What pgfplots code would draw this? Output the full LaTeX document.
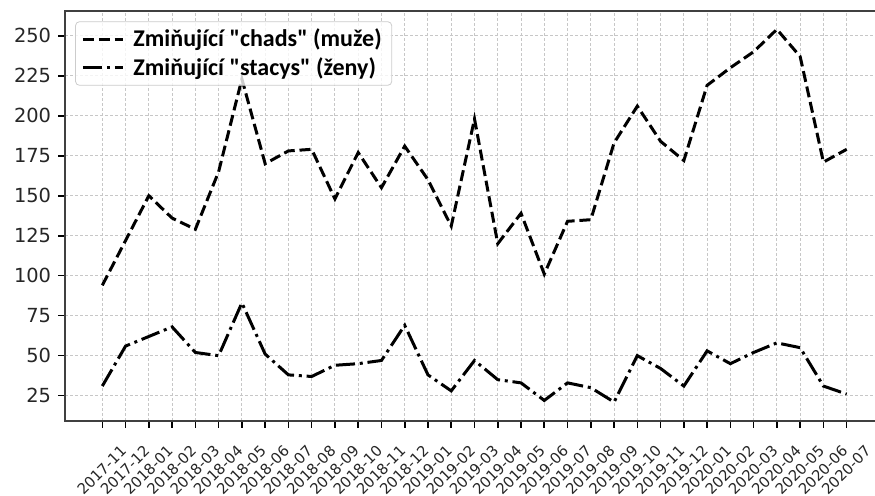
\documentclass[border=0pt]{standalone}
\usepackage{fontspec}
\setmainfont{DejaVu Sans}
\newfontfamily\legfont{Carlito}
\usepackage{pgfplots}
\pgfplotsset{compat=1.18}
\begin{document}
\begin{tikzpicture}
\begin{axis}[
  at={(32.55pt,37.15pt)}, anchor=south west,
  scale only axis, width=409.4pt, height=205pt,
  xmin=-1.6, xmax=33.6, ymin=9.35, ymax=265.65,
  xtick={0,...,32},
  xticklabels={2017-11,2017-12,2018-01,2018-02,2018-03,2018-04,2018-05,2018-06,2018-07,2018-08,2018-09,2018-10,2018-11,2018-12,2019-01,2019-02,2019-03,2019-04,2019-05,2019-06,2019-07,2019-08,2019-09,2019-10,2019-11,2019-12,2020-01,2020-02,2020-03,2020-04,2020-05,2020-06,2020-07},
  ytick={25,50,75,100,125,150,175,200,225,250},
  xtick pos=bottom, ytick pos=left,
  tick align=outside, major tick length=3.5pt,
  every tick/.style={black, line width=0.8pt},
  axis line style={black!75, line width=1.2pt},
  grid=major,
  major grid style={black!22, line width=0.5pt, dash pattern=on 1.5pt off 1pt},
  /pgf/number format/assume math mode=true,
  yticklabel style={font=\fontsize{9.7}{11}\selectfont, text=black!85},
  xticklabel style={font=\fontsize{7.4}{8.5}\selectfont, text=black!85, inner sep=0pt, xshift=-0.3pt, yshift=-21.3pt, rotate=45, anchor=center},
  legend style={at={(0,1)}, anchor=north west, xshift=5pt, yshift=-5.3pt,
    draw=black!20, rounded corners=2pt, fill=white, fill opacity=0.8, text opacity=1,
    font=\legfont\bfseries\fontsize{12}{14}\selectfont, inner xsep=3pt, inner ysep=1.5pt,
    /tikz/every odd column/.style={column sep=2.5pt}},
  legend cell align=left,
  legend image code/.code={\draw[#1] (0pt,0pt) -- (20pt,0pt);},
]
\addplot[black, line width=1.5pt, dash pattern=on 5.5pt off 2.4pt] coordinates {
(0,94) (1,122) (2,150) (3,136) (4,129) (5,165) (6,223) (7,170) (8,178) (9,179)
(10,148) (11,177) (12,155) (13,181) (14,160) (15,131) (16,198) (17,120) (18,139) (19,101)
(20,134) (21,135) (22,183) (23,206) (24,184) (25,172) (26,219) (27,230) (28,240) (29,254)
(30,237) (31,171) (32,179)};
\addlegendentry{Zmiňující "chads" (muže)}
\addplot[black, line width=1.5pt, dash pattern=on 9.6pt off 2.4pt on 1.5pt off 2.4pt] coordinates {
(0,31) (1,56) (2,62) (3,68) (4,52) (5,50) (6,83) (7,51) (8,38) (9,37)
(10,44) (11,45) (12,47) (13,69) (14,38) (15,28) (16,47) (17,35) (18,33) (19,22)
(20,33) (21,30) (22,21) (23,50) (24,42) (25,31) (26,53) (27,45) (28,52) (29,58)
(30,55) (31,31) (32,26)};
\addlegendentry{Zmiňující "stacys" (ženy)}
\end{axis}
\pgfresetboundingbox
\useasboundingbox (0,0) rectangle (437.5pt,247.5pt);
\end{tikzpicture}
\end{document}
